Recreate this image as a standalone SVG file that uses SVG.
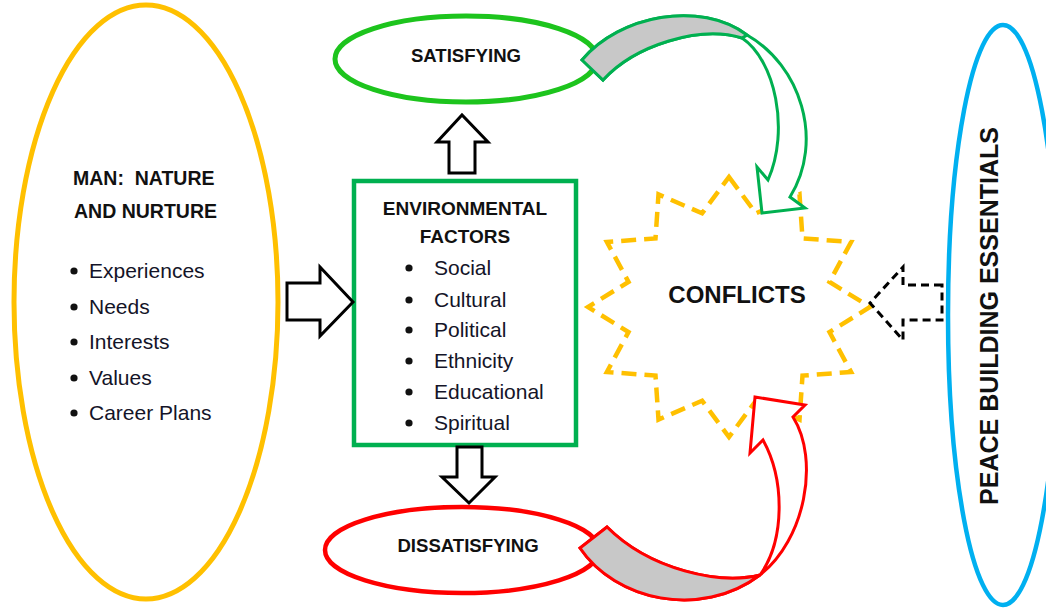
<svg xmlns="http://www.w3.org/2000/svg" width="1046" height="609" viewBox="0 0 1046 609">
  <style>
    .t { font-family: "Liberation Sans", Arial, sans-serif; fill: #111; }
    .hd { font-weight: bold; }
    .li { font-size: 21px; fill: #141428; }
    .dot { fill: #111; }
    .blk { fill: #fff; stroke: #000; stroke-width: 3; stroke-linejoin: miter; }
    .dash { fill: none; stroke: #000; stroke-width: 3; stroke-dasharray: 8 5; }
  </style>

  <rect width="1046" height="609" fill="#fff"/>

  <!-- Man: nature and nurture -->
  <g id="man">
    <ellipse cx="146" cy="302" rx="132" ry="297" fill="#fff" stroke="#FFC000" stroke-width="5"/>
    <text class="t hd" x="73" y="185" font-size="19.5" xml:space="preserve">MAN:  NATURE</text>
    <text class="t hd" x="74" y="218" font-size="19.5">AND NURTURE</text>
    <g class="dot">
      <circle cx="74" cy="271" r="3.6"/>
      <circle cx="74" cy="307" r="3.6"/>
      <circle cx="74" cy="342" r="3.6"/>
      <circle cx="74" cy="378" r="3.6"/>
      <circle cx="74" cy="413" r="3.6"/>
    </g>
    <g class="t li">
      <text x="89" y="278">Experiences</text>
      <text x="89" y="314">Needs</text>
      <text x="89" y="349">Interests</text>
      <text x="89" y="385">Values</text>
      <text x="89" y="420">Career Plans</text>
    </g>
  </g>

  <!-- Environmental factors -->
  <g id="environment">
    <rect x="354" y="181" width="222" height="264" fill="#fff" stroke="#00B050" stroke-width="4.5"/>
    <text class="t hd" x="465" y="215" font-size="19" text-anchor="middle">ENVIRONMENTAL</text>
    <text class="t hd" x="465" y="243" font-size="19" text-anchor="middle">FACTORS</text>
    <g class="dot">
      <circle cx="409" cy="268" r="3.6"/>
      <circle cx="409" cy="300" r="3.6"/>
      <circle cx="409" cy="330" r="3.6"/>
      <circle cx="409" cy="361" r="3.6"/>
      <circle cx="409" cy="392" r="3.6"/>
      <circle cx="409" cy="423" r="3.6"/>
    </g>
    <g class="t li">
      <text x="434" y="275">Social</text>
      <text x="434" y="307">Cultural</text>
      <text x="434" y="337">Political</text>
      <text x="434" y="368">Ethnicity</text>
      <text x="434" y="399">Educational</text>
      <text x="434" y="430">Spiritual</text>
    </g>
  </g>

  <!-- Satisfying -->
  <g id="satisfying">
    <ellipse cx="466" cy="59" rx="131" ry="43" fill="#fff" stroke="#1DC41D" stroke-width="5"/>
    <text class="t hd" x="466" y="62" font-size="18.6" text-anchor="middle">SATISFYING</text>
  </g>

  <!-- Dissatisfying -->
  <g id="dissatisfying">
    <ellipse cx="462" cy="550" rx="137" ry="43" fill="#fff" stroke="#FF0000" stroke-width="4.5"/>
    <text class="t hd" x="468" y="552" font-size="18.6" text-anchor="middle">DISSATISFYING</text>
  </g>

  <!-- Conflicts: twelve-point dashed star -->
  <g id="conflicts">
    <polygon points="729,177 755.9,213.3 799.5,194.4 802.5,238.4 851.1,242 829.5,281.9 870,307 829.5,332.1 851.1,372 802.5,375.6 799.5,419.6 755.9,400.7 729,437 702.1,400.7 658.5,419.6 655.5,375.6 606.9,372 628.5,332.1 588,307 628.5,281.9 606.9,242 655.5,238.4 658.5,194.4 702.1,213.3"
             fill="#fff" stroke="#FFC000" stroke-width="4.5" stroke-dasharray="15 8" stroke-linejoin="miter"/>
    <text class="t hd" x="737" y="303" font-size="24" text-anchor="middle">CONFLICTS</text>
  </g>

  <!-- Peace building essentials -->
  <g id="peace">
    <ellipse cx="1003" cy="315" rx="55" ry="290" fill="#fff" stroke="#00B0F0" stroke-width="4.5"/>
    <text class="t hd" font-size="25" text-anchor="middle" transform="translate(998,316) rotate(-90)">PEACE BUILDING ESSENTIALS</text>
  </g>

  <g id="connectors">
    <!-- man to environment -->
    <polygon class="blk" points="287,283 320,283 320,267 353,302 320,336 320,320 287,320"/>
    <!-- environment up to satisfying -->
    <polygon class="blk" points="449,173 449,142 437,142 462,115 488,142 475,142 475,173"/>
    <!-- environment down to dissatisfying -->
    <polygon class="blk" points="457,447 482,447 482,477 495,477 469,503 442,477 457,477"/>
    <!-- peace building towards conflicts -->
    <polygon class="dash" points="942,285 903,285 903,267 870,303 903,340 903,320 942,320"/>

    <!-- satisfying to conflicts (curved) -->
    <path d="M582,60 C620,15 700,0 747,35 C800,65 825,140 790,197 L805,208 L762,213 L757,167 L768,180 C790,130 775,60 742,38 C700,25 635,45 603,80 Z"
          fill="#fff" stroke="#00B050" stroke-width="3" stroke-linejoin="miter"/>
    <path d="M582,60 C620,15 700,0 747,35 L742,38 C700,25 635,45 603,80 Z"
          fill="#C8C8C8" stroke="#00B050" stroke-width="3"/>

    <!-- dissatisfying to conflicts (curved) -->
    <path d="M580,548 C615,600 700,620 760,575 C805,540 820,460 793,417 L805,405 L755,397 L750,453 L763,440 C785,480 785,540 760,575 C720,585 650,570 607,527 Z"
          fill="#fff" stroke="#FF0000" stroke-width="3" stroke-linejoin="miter"/>
    <path d="M580,548 C615,600 700,620 760,575 C720,585 650,570 607,527 Z"
          fill="#C8C8C8" stroke="#FF0000" stroke-width="3"/>
  </g>
</svg>
